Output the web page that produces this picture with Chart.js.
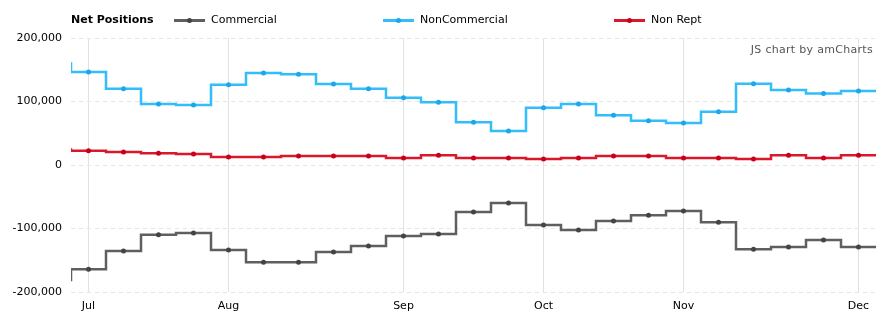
<!DOCTYPE html>
<html>
<head>
<meta charset="utf-8">
<script src="https://cdn.jsdelivr.net/npm/chart.js@4"></script>
<style>
  html, body { margin: 0; padding: 0; background: #fff; }
  #wrap { position: relative; width: 894px; height: 322px; font-family: "DejaVu Sans", Verdana, sans-serif; font-size: 11px; color: #000; }
  #wrap canvas { position: absolute; left: 0; top: 0; }
  .lg { position: absolute; top: 13px; line-height: 14px; white-space: nowrap; }
  .mk { position: absolute; top: 19px; width: 31px; height: 2.5px; }
  .mk i { position: absolute; left: 13px; top: -1.5px; width: 5px; height: 5px; border-radius: 50%; }
  #credit { position: absolute; right: 21px; top: 43px; color: #555; font-size: 11px; letter-spacing: 0.3px; }
</style>
</head>
<body>
<div id="wrap">
  <canvas id="myChart" width="894" height="322"></canvas>
  <div class="lg" style="left:71px;font-weight:bold">Net Positions</div>
  <div class="mk" style="left:174px;background:#5f5f5f"><i style="background:#444"></i></div>
  <div class="lg" style="left:211px">Commercial</div>
  <div class="mk" style="left:383px;background:#33bdfa"><i style="background:#1aa8ea"></i></div>
  <div class="lg" style="left:420px">NonCommercial</div>
  <div class="mk" style="left:614px;background:#d9182b"><i style="background:#c8001a"></i></div>
  <div class="lg" style="left:651px">Non Rept</div>
  <div id="credit">JS chart by amCharts</div>
</div>
<script>
// weekly report dates (first and last are just outside the visible range)
let weeks = ['2016-06-28','2016-07-05','2016-07-12','2016-07-19','2016-07-26',
  '2016-08-02','2016-08-09','2016-08-16','2016-08-23','2016-08-30',
  '2016-09-06','2016-09-13','2016-09-20','2016-09-27',
  '2016-10-04','2016-10-11','2016-10-18','2016-10-25',
  '2016-11-01','2016-11-08','2016-11-15','2016-11-22','2016-11-29',
  '2016-12-06','2016-12-13']
let commercial = [-181000,-164000,-135500,-110000,-107000,-134000,-153000,-153000,-137000,-127500,
  -112000,-108500,-74000,-60000,-94500,-102500,-88000,-79000,-72500,-90000,-132500,-129000,-118000,-129000,-129000]
let nonCommercial = [160000,146500,120000,96000,94500,126500,145000,143000,127500,120000,
  106000,99000,67500,53500,90000,96000,78500,69500,66000,84000,128000,118000,112500,116500,116500]
let nonRept = [24500,22500,20500,18500,17500,12500,12500,14000,14000,14000,
  11000,15500,11000,11000,9500,11000,14000,14000,11000,11000,9500,15500,11000,15500,15500]
let monthNames = ['Jan','Feb','Mar','Apr','May','Jun','Jul','Aug','Sep','Oct','Nov','Dec']
let yTicks = [-200000,-100000,0,100000,200000]

// month label goes on the first week of each month
let monthStarts = []
for (let i=1;i<weeks.length;i++) {
  if (weeks[i].slice(5,7) != weeks[i-1].slice(5,7)) monthStarts.push(i)
}

function series(vals) {
  return vals.map((v, i) => ({x: i, y: v}))
}

function lineSet(label, vals, color, dot) {
  return {
    label: label,
    data: series(vals),
    stepped: 'middle',
    borderColor: color,
    borderWidth: 2.5,
    pointRadius: 2.5,
    pointBackgroundColor: dot,
    pointBorderWidth: 0,
    fill: false
  }
}

let ctx = document.getElementById('myChart')
new Chart(ctx, {
  type: 'line',
  data: {
    datasets: [
      lineSet('Commercial', commercial, '#5f5f5f', '#444'),
      lineSet('NonCommercial', nonCommercial, '#33bdfa', '#1aa8ea'),
      lineSet('Non Rept', nonRept, '#d9182b', '#c8001a')
    ]
  },
  options: {
    responsive: false,
    animation: false,
    layout: { padding: { top: 38, right: 18, left: 0, bottom: 0 } },
    plugins: { legend: { display: false }, tooltip: { enabled: false } },
    scales: {
      x: {
        type: 'linear',
        min: 0.5,
        max: weeks.length - 1.5,
        border: { display: false },
        grid: { color: '#e2e2e2', lineWidth: 1, drawTicks: false },
        afterBuildTicks: (axis) => { axis.ticks = monthStarts.map(v => ({value: v})) },
        afterFit: (axis) => { axis.height = 30 },
        ticks: {
          autoSkip: false,
          maxRotation: 0,
          padding: 8,
          color: '#000',
          font: { family: 'DejaVu Sans', size: 11 },
          callback: (v) => monthNames[parseInt(weeks[v].slice(5,7)) - 1]
        }
      },
      y: {
        min: -200000,
        max: 200000,
        border: { display: false, dash: [4,4] },
        grid: { color: '#e6e6e6', lineWidth: 1, drawTicks: false },
        afterBuildTicks: (axis) => { axis.ticks = yTicks.map(v => ({value: v})) },
        afterFit: (axis) => { axis.width = 71 },
        ticks: {
          padding: 9,
          color: '#000',
          font: { family: 'DejaVu Sans', size: 11 },
          callback: (v) => v.toLocaleString('en-US')
        }
      }
    }
  }
})
</script>
</body>
</html>
